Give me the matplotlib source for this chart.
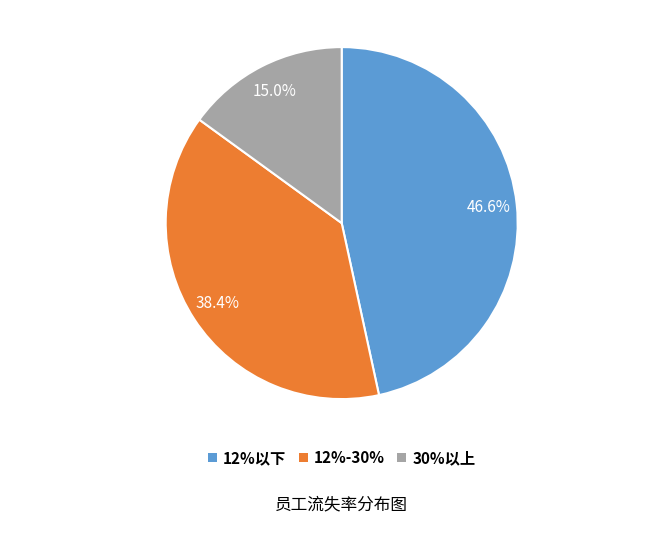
import matplotlib
matplotlib.use("Agg")
import matplotlib.pyplot as plt
from matplotlib.patches import Patch

plt.rcParams['font.family'] = ['Noto Sans CJK SC', 'DejaVu Sans']

categories = ['12%以下', '12%-30%', '30%以上']
values = [46.6, 38.4, 15.0]
colors = ['#5B9BD5', '#ED7D31', '#A5A5A5']
title = '员工流失率分布图'

fig = plt.figure(figsize=(6.7, 5.35), dpi=100)
ax = fig.add_axes([0.246, 0.252, 0.528, 0.662])
wedges, texts, autotexts = ax.pie(values, colors=colors, startangle=90, counterclock=False,
                                  autopct='%.1f%%', pctdistance=0.84,
                                  wedgeprops=dict(edgecolor='white', linewidth=1.5),
                                  textprops=dict(color='white', fontsize=11))
ax.set_xlim(-1.005, 1.005)
ax.set_ylim(-1.005, 1.005)
ax.set_aspect('equal')
handles = [Patch(facecolor=c, label=l) for c, l in zip(colors, categories)]
fig.legend(handles=handles, loc='center', bbox_to_anchor=(0.51, 1 - 458/535), ncol=3,
           frameon=False, handlelength=0.6, handleheight=0.6, handletextpad=0.4,
           columnspacing=0.8, prop=dict(size=11, weight='bold'))
fig.text(0.51, 1 - 505/535, title, ha='center', va='center', fontsize=12)
fig.savefig('out.png', dpi=100)
